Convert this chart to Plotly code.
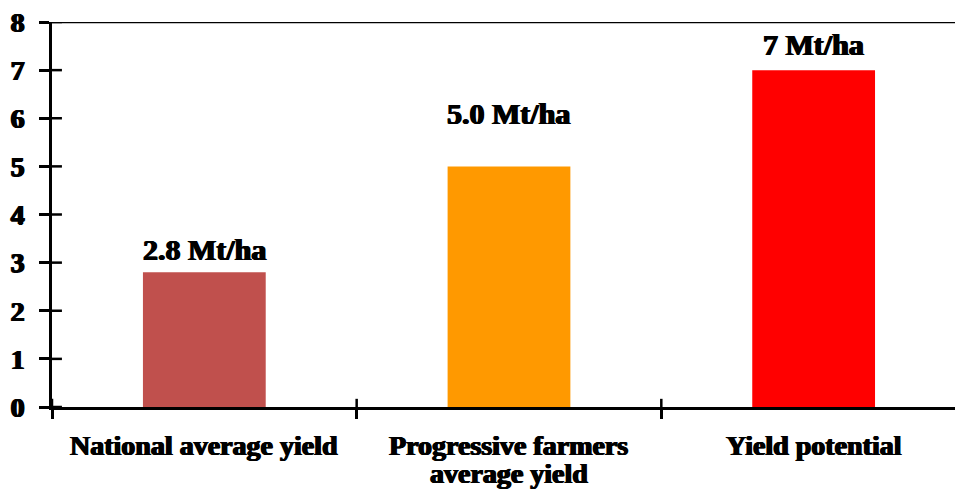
import plotly.graph_objects as go

categories = ["National average yield", "Progressive farmers<br>average yield", "Yield potential"]
values = [2.8, 5.0, 7.0]
value_labels = ["2.8 Mt/ha", "5.0 Mt/ha", "7 Mt/ha"]
colors = ["#C0504D", "#FF9900", "#FF0000"]
label_shift_px = [23, 53, 26]
y_ticks = [0, 1, 2, 3, 4, 5, 6, 7, 8]

FONT = "Liberation Serif"
SHADOW = "0.8px 0 0 black, -0.8px 0 0 black, 0 0.4px 0 black"

fig = go.Figure()
fig.add_trace(go.Bar(
    x=categories, y=values, marker=dict(color=colors, line=dict(width=0)),
    width=0.403, hoverinfo="skip",
))

for c, v, t, s in zip(categories, values, value_labels, label_shift_px):
    fig.add_annotation(x=c, y=v, text="<b>%s</b>" % t, showarrow=False,
                       yanchor="middle", yshift=s,
                       font=dict(family=FONT, size=30, color="black", shadow=SHADOW))

# category labels, one annotation per line for tight line spacing
for c in categories:
    for i, line in enumerate(c.split("<br>")):
        fig.add_annotation(x=c, y=0, text="<b>%s</b>" % line, showarrow=False,
                           yanchor="middle", yshift=-38 - 28 * i,
                           font=dict(family=FONT, size=28, color="black", shadow=SHADOW))

n = len(categories)
shapes = []
shapes.append(dict(type="line", xref="paper", yref="y", x0=-0.011, x1=1, y0=max(y_ticks), y1=max(y_ticks),
                   line=dict(color="black", width=2.5)))
for t in y_ticks:
    shapes.append(dict(type="line", xref="paper", yref="y", x0=0, x1=0.011, y0=t, y1=t,
                       line=dict(color="black", width=2.5)))
for b in range(n):
    shapes.append(dict(type="line", xref="x", yref="y", x0=b - 0.5, x1=b - 0.5, y0=0, y1=0.17,
                       line=dict(color="black", width=2.5)))
fig.update_layout(shapes=shapes)

fig.update_layout(
    width=955, height=492,
    margin=dict(l=52, r=0, t=22, b=85),
    plot_bgcolor="white", paper_bgcolor="white",
    showlegend=False,
    font=dict(family=FONT, color="black"),
)
fig.update_xaxes(
    type="category", range=[-0.5, n - 0.5 - 0.036], tickson="boundaries",
    ticks="outside", ticklen=9, tickwidth=2.5, tickcolor="black",
    showline=True, linecolor="black", linewidth=2.5, showgrid=False,
    showticklabels=False, automargin=False,
)
fig.update_yaxes(
    range=[0, 8], tickvals=y_ticks, ticks="outside", ticklen=10, tickwidth=2.5, tickcolor="black",
    showline=True, linecolor="black", linewidth=2.5, showgrid=False, zeroline=False,
    tickfont=dict(family=FONT, size=28, color="black", weight="bold", shadow=SHADOW),
    ticklabelstandoff=9, automargin=False,
)

fig.write_html("out.html")
